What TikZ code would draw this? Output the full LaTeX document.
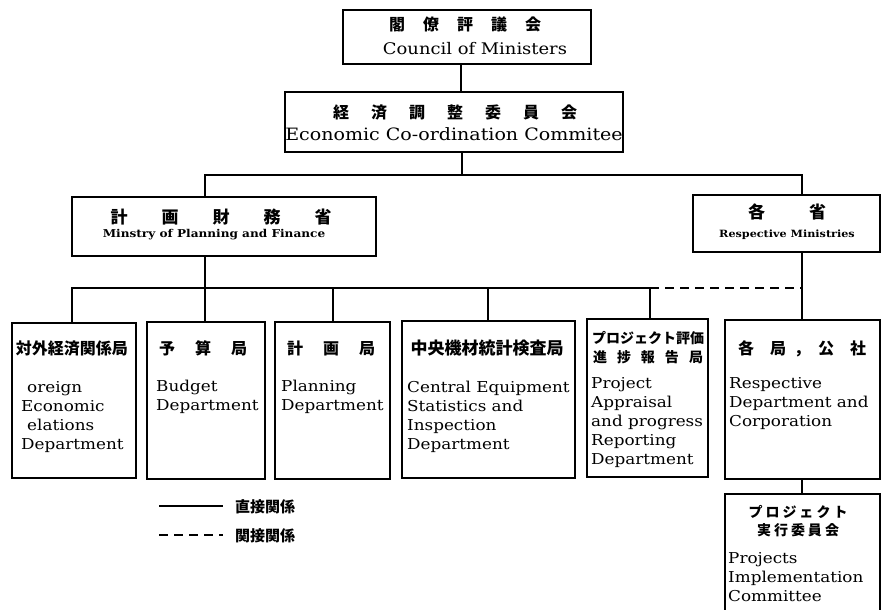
\documentclass[tikz,border=0pt]{standalone}
\usepackage{fontspec}
\setmainfont[FakeStretch=1.12]{DejaVu Serif}
\newfontfamily\jp{Noto Sans CJK JP}
\begin{document}
\begin{tikzpicture}[x=1pt,y=-1pt,
  box/.style={draw, line width=1.5pt, inner sep=0pt, outer sep=0pt, anchor=north west},
  conn/.style={line width=1.2pt},
  dconn/.style={line width=1.2pt, dash pattern=on 9pt off 6pt},
  en/.style={inner sep=0pt, align=left, anchor=north west, font=\fontsize{15}{19}\selectfont},
  ent/.style={inner sep=0pt, anchor=base},
  jpt/.style={inner sep=0pt, anchor=base, font=\jp\bfseries\fontsize{16}{18}\selectfont},
  jps/.style={inner sep=0pt, anchor=base, font=\jp\bfseries\fontsize{14}{16}\selectfont}]
\clip (0,0) rectangle (881,610);
\fill[white] (0,0) rectangle (881,610);
% boxes
\node[box, minimum width=248, minimum height=54] (council) at (343,10) {};
\node[box, minimum width=338, minimum height=60] (econ) at (285,92) {};
\node[box, minimum width=304, minimum height=59] (min) at (72,197) {};
\node[box, minimum width=187, minimum height=57] (resp) at (693,195) {};
\node[box, minimum width=124, minimum height=155] (b1) at (12,323) {};
\node[box, minimum width=118, minimum height=157] (b2) at (147,322) {};
\node[box, minimum width=115, minimum height=157] (b3) at (275,322) {};
\node[box, minimum width=173, minimum height=157] (b4) at (402,321) {};
\node[box, minimum width=121, minimum height=158] (b5) at (587,319) {};
\node[box, minimum width=155, minimum height=159] (b6) at (725,320) {};
\node[box, minimum width=155, minimum height=130] (b7) at (725,494) {};
% texts
\node[jpt] (councilj) at (465,31) {閣\hspace{18pt}僚\hspace{18pt}評\hspace{18pt}議\hspace{18pt}会};
\node[ent, font=\fontsize{16}{19}\selectfont] (councile) at (475,55) {Council of Ministers};
\node[jpt] (econj) at (455,118) {経\hspace{22pt}済\hspace{22pt}調\hspace{22pt}整\hspace{22pt}委\hspace{22pt}員\hspace{22pt}会};
\node[ent, font=\fontsize{17}{19}\selectfont] (econe) at (454,140) {Economic Co-ordination Commitee};
\node[jpt, font=\jp\bfseries\fontsize{17}{18}\selectfont] (minj) at (221,223) {計\hspace{34pt}画\hspace{34pt}財\hspace{34pt}務\hspace{34pt}省};
\node[ent, font=\bfseries\fontsize{10.8}{14}\selectfont] (mine) at (214,237) {Minstry of Planning and Finance};
\node[jpt, font=\jp\bfseries\fontsize{17}{18}\selectfont] (respj) at (787,218) {各\hspace{44pt}省};
\node[ent, font=\bfseries\fontsize{10}{14}\selectfont] (respe) at (787,237) {Respective Ministries};
% bottom boxes
\node[jpt] (b1j) at (72,354) {対外経済関係局};
\node[en] (b1e) at (21,378.7) {\strut\hspace{6pt}oreign\\Economic\\\hspace{6pt}elations\\Department};
\node[jpt] (b2j) at (203,354) {予\hspace{20pt}算\hspace{20pt}局};
\node[en] (b2e) at (156,377.7) {\strut Budget\\Department};
\node[jpt] (b3j) at (331,354) {計\hspace{20pt}画\hspace{20pt}局};
\node[en] (b3e) at (281,377.7) {\strut Planning\\Department};
\node[jpt, font=\jp\bfseries\fontsize{17}{18}\selectfont] (b4j) at (487,354) {中央機材統計検査局};
\node[en] (b4e) at (407,378.7) {\strut Central Equipment\\Statistics and\\Inspection\\Department};
\node[jps] (b5j1) at (648,343) {プロジェクト評価};
\node[jps] (b5j2) at (648,362) {進\hspace{10pt}捗\hspace{10pt}報\hspace{10pt}告\hspace{10pt}局};
\node[en] (b5e) at (591,374.7) {\strut Project\\Appraisal\\and progress\\Reporting\\Department};
\node[jpt] (b6j) at (802,354) {各\hspace{16pt}局\hspace{8pt}，\hspace{8pt}公\hspace{16pt}社};
\node[en] (b6e) at (729,374.7) {\strut Respective\\Department and\\Corporation};
\node[jps] (b7j1) at (798,517) {プ\hspace{3pt}ロ\hspace{3pt}ジ\hspace{3pt}ェ\hspace{3pt}ク\hspace{3pt}ト};
\node[jps] (b7j2) at (798,535) {実\hspace{3pt}行\hspace{3pt}委\hspace{3pt}員\hspace{3pt}会};
\node[en] (b7e) at (728,549.7) {\strut Projects\\Implementation\\Committee};
% legend
\coordinate (l1a) at (159,506); \coordinate (l1b) at (223,506);
\coordinate (l2a) at (159,535); \coordinate (l2b) at (223,535);
\draw[conn] (l1a) -- (l1b);
\draw[dconn] (l2a) -- (l2b);
\node[inner sep=0pt, anchor=base west, font=\jp\bfseries\fontsize{15}{16}\selectfont] (leg1) at (235,512) {直接関係};
\node[inner sep=0pt, anchor=base west, font=\jp\bfseries\fontsize{15}{16}\selectfont] (leg2) at (235,541) {関接関係};
% connectors
\coordinate (xa) at (461,0);
\coordinate (xb) at (462,0);
\coordinate (jA) at (205,175);
\coordinate (jB) at (802,175);
\coordinate (busL) at (72,288);
\coordinate (busM) at (205,288);
\coordinate (bus3) at (333,288);
\coordinate (bus4) at (488,288);
\coordinate (bus5) at (650,288);
\coordinate (busR) at (802,288);
\draw[conn] (council.south -| xa) -- (econ.north -| xa);
\draw[conn] (econ.south -| xb) -- (jA -| xb);
\draw[conn] (min.north -| jA) -- (jA) -- (jB) -- (resp.north -| jB);
\draw[conn] (min.south -| busM) -- (busM);
\draw[conn] (b1.north -| busL) -- (busL) -- (bus5) -- (b5.north -| bus5);
\draw[conn] (busM) -- (b2.north -| busM);
\draw[conn] (bus3) -- (b3.north -| bus3);
\draw[conn] (bus4) -- (b4.north -| bus4);
\draw[dconn] (bus5) -- (busR);
\draw[conn] (resp.south -| busR) -- (b6.north -| busR);
\draw[conn] (b6.south -| busR) -- (b7.north -| busR);
\end{tikzpicture}
\end{document}
